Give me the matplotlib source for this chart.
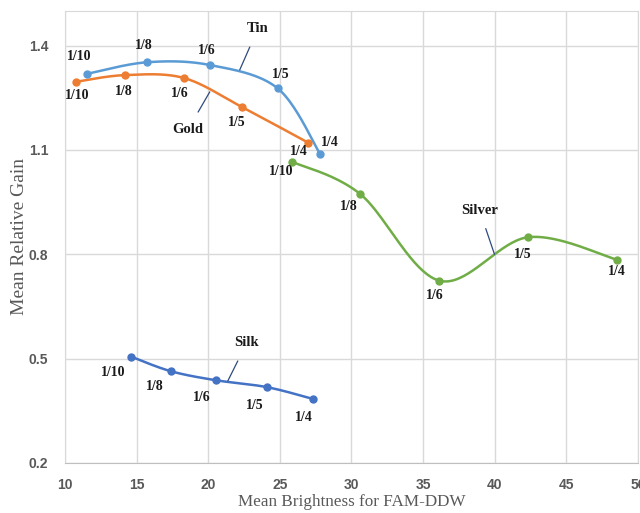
import numpy as np
import matplotlib
matplotlib.use("Agg")
import matplotlib.pyplot as plt

# Data
labels = ["1/10", "1/8", "1/6", "1/5", "1/4"]

tin_x = [11.56, 15.72, 20.13, 24.85, 27.83]
tin_y = [1.319, 1.352, 1.344, 1.277, 1.087]

gold_x = [10.79, 14.16, 18.28, 22.37, 26.97]
gold_y = [1.296, 1.315, 1.307, 1.223, 1.121]

silver_x = [25.85, 30.62, 36.15, 42.34, 48.56]
silver_y = [1.066, 0.973, 0.724, 0.849, 0.784]

silk_x = [14.60, 17.37, 20.51, 24.11, 27.32]
silk_y = [0.506, 0.464, 0.438, 0.418, 0.384]

x_ticks = [10, 15, 20, 25, 30, 35, 40, 45, 50]
y_ticks = [0.2, 0.5, 0.8, 1.1, 1.4]


def smooth(x, y, n=40):
    # Excel-like smoothed line: cubic Bezier with Catmull-Rom control points
    x = np.asarray(x, float)
    y = np.asarray(y, float)
    px = np.concatenate([[x[0]], x, [x[-1]]])
    py = np.concatenate([[y[0]], y, [y[-1]]])
    xs, ys = [], []
    t = np.linspace(0, 1, n)
    for i in range(1, len(px) - 2):
        p0 = np.array([px[i], py[i]])
        p3 = np.array([px[i + 1], py[i + 1]])
        c1 = p0 + (np.array([px[i + 1], py[i + 1]]) - np.array([px[i - 1], py[i - 1]])) / 6
        c2 = p3 - (np.array([px[i + 2], py[i + 2]]) - np.array([px[i], py[i]])) / 6
        b = ((1 - t) ** 3)[:, None] * p0 + (3 * (1 - t) ** 2 * t)[:, None] * c1 \
            + (3 * (1 - t) * t ** 2)[:, None] * c2 + (t ** 3)[:, None] * p3
        xs.extend(b[:, 0])
        ys.extend(b[:, 1])
    return xs, ys


fig = plt.figure(figsize=(6.4, 5.13), dpi=100)
ax = fig.add_axes([0.1016, 0.0975, 0.895, 0.8815])

series = [
    (tin_x, tin_y, "#5B9BD5", [(-8, 17), (-3, 17), (-3, 15), (3, 14), (9, 12)]),
    (gold_x, gold_y, "#ED7D31", [(1, -14), (-1, -16), (-4, -16), (-5, -15), (-9, -9)]),
    (silver_x, silver_y, "#70AD47", [(-11, -10), (-11, -12), (-5, -15), (-5, -17), (0, -12)]),
    (silk_x, silk_y, "#4472C4", [(-18, -16), (-16, -15), (-14, -17), (-12, -18), (-9, -19)]),
]

serif = "Liberation Serif"
for xs, ys, col, offs in series:
    sx, sy = smooth(xs, ys)
    ax.plot(sx, sy, color=col, lw=1.8, zorder=3)
    ax.plot(xs, ys, "o", color=col, ms=5, zorder=4)
    for xv, yv, lab, off in zip(xs, ys, labels, offs):
        ax.annotate(lab, (xv, yv), xytext=off, textcoords="offset pixels",
                    ha="center", va="center", fontsize=10, fontweight="bold",
                    family=serif, color="#1a1a1a", zorder=5)

# series names with leader lines
names = [
    ("Tin", (22.2, 1.33), (23.46, 1.448)),
    ("Gold", (20.11, 1.267), (18.58, 1.158)),
    ("Silver", (39.99, 0.80), (38.94, 0.927)),
    ("Silk", (21.37, 0.436), (22.69, 0.545)),
]
for name, pt, txt in names:
    ax.annotate(name, pt, xytext=txt, textcoords="data", ha="center", va="center",
                fontsize=10.5, fontweight="bold", family=serif, color="#1a1a1a",
                arrowprops=dict(arrowstyle="-", color="#2E4A7D", lw=0.9,
                                shrinkA=7, shrinkB=0), zorder=5)

ax.set_xlim(10, 50)
ax.set_ylim(0.2, 1.5)
ax.set_xticks(x_ticks)
ax.set_yticks(y_ticks)
ax.set_xticklabels([str(v) for v in x_ticks])
ax.set_yticklabels([f"{v:.1f}" for v in y_ticks])
ax.grid(True, color="#D9D9D9", lw=1)
ax.set_axisbelow(True)
ax.tick_params(length=0, labelsize=10, labelcolor="#595959")
ax.tick_params(axis="x", pad=11)
ax.tick_params(axis="y", pad=12)
for lab in ax.get_xticklabels() + ax.get_yticklabels():
    lab.set_fontweight("bold")
    lab.set_family("Liberation Sans")
for s in ["top", "right", "left"]:
    ax.spines[s].set_color("#D9D9D9")
ax.spines["bottom"].set_color("#BFBFBF")

ax.set_xlabel("Mean Brightness for FAM-DDW", family=serif, fontsize=12.3,
              color="#595959")
ax.set_ylabel("Mean Relative Gain", family=serif, fontsize=14,
              color="#595959")
ax.xaxis.set_label_coords(0.50, -0.069)
ax.yaxis.set_label_coords(-0.064, 0.5)

plt.savefig("out.png", dpi=100)
